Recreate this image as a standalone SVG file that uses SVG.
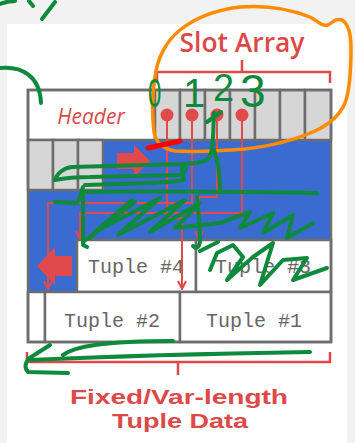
<svg xmlns="http://www.w3.org/2000/svg" width="355" height="443" viewBox="0 0 355 443">
  <style>
    .grid{stroke:#6d6d6d;stroke-width:2.5}
    .cell{fill:#d6d6d6}
    .paper{fill:#ffffff}
    .ptr{fill:none;stroke:#e04a4a;stroke-width:2}
    .brk{fill:none;stroke:#dd4a4a;stroke-width:2.5}
    .lbl{font-family:"Open Sans","Liberation Sans",sans-serif;font-weight:600;fill:#dd4848}
    .cap{font-family:"Liberation Sans",sans-serif;font-weight:bold;fill:#dd4848}
    .tup{font-family:"Liberation Mono","DejaVu Sans Mono",monospace;font-size:20px;fill:#666666}
    .pen{fill:none;stroke:#0f8a3c;stroke-width:4;stroke-linecap:round;stroke-linejoin:round}
    .ink{font-family:"Liberation Sans",sans-serif;fill:#0f8a3c}
    .hl{fill:none;stroke:#ff8c00;stroke-width:3.5;stroke-linecap:round;stroke-linejoin:round}
  </style>
  <defs>
    <marker id="ah" viewBox="0 0 10 10" refX="9" refY="5" markerWidth="10" markerHeight="10" orient="auto" markerUnits="userSpaceOnUse">
      <path d="M1,1 L9,5 L1,9" fill="none" stroke="#e04a4a" stroke-width="2"/>
    </marker>
  </defs>

  <!-- backdrop -->
  <rect width="355" height="443" fill="#f2f2f2"/>
  <rect x="7" y="24" width="340" height="419" fill="#ffffff"/>

  <!-- page layout -->
  <g id="page">
    <polygon points="103,140 331,140 331,240 77,240 77,292 28,292 28,190 103,190" fill="#3a6bd0"/>
    <g id="header">
      <rect class="paper grid" x="28" y="90" width="127" height="50"/>
      <text x="91" y="124" text-anchor="middle" font-family="'Open Sans','Liberation Sans',sans-serif" font-style="italic" font-size="21" fill="#d94848">Header</text>
    </g>
    <g id="slot-array" class="grid">
      <rect class="cell" x="155" y="90" width="25" height="50"/>
      <rect class="cell" x="180" y="90" width="25" height="50"/>
      <rect class="cell" x="205" y="90" width="25" height="50"/>
      <rect class="cell" x="230" y="90" width="25" height="50"/>
      <rect class="cell" x="255" y="90" width="25" height="50"/>
      <rect class="cell" x="280" y="90" width="25" height="50"/>
      <rect class="cell" x="305" y="90" width="26" height="50"/>
    </g>
    <g id="spare-cells" class="grid">
      <rect class="cell" x="28" y="140" width="25" height="50"/>
      <rect class="cell" x="53" y="140" width="25" height="50"/>
      <rect class="cell" x="78" y="140" width="25" height="50"/>
    </g>
    <g id="tuple4">
      <rect class="paper grid" x="77" y="240" width="119" height="52"/>
      <text class="tup" x="136" y="273" text-anchor="middle">Tuple #4</text>
    </g>
    <g id="tuple3">
      <rect class="paper grid" x="196" y="240" width="135" height="52"/>
      <text class="tup" x="263" y="273" text-anchor="middle">Tuple #3</text>
    </g>
    <rect class="paper grid" x="28" y="292" width="17" height="50"/>
    <g id="tuple2">
      <rect class="paper grid" x="45" y="292" width="135" height="50"/>
      <text class="tup" x="112" y="327" text-anchor="middle">Tuple #2</text>
    </g>
    <g id="tuple1">
      <rect class="paper grid" x="180" y="292" width="151" height="50"/>
      <text class="tup" x="254" y="327" text-anchor="middle">Tuple #1</text>
    </g>
    <rect x="28" y="90" width="303" height="252" fill="none" class="grid"/>
  </g>

  <!-- free-space growth arrows -->
  <g id="growth" fill="#e04a4a">
    <polygon points="117,153 134,153 134,145 150,161 134,177 134,169 117,169"/>
    <polygon points="72,256 55,256 55,247 37,266 55,285 55,276 72,276"/>
  </g>

  <!-- slot pointers -->
  <g id="connectors">
    <path class="ptr" d="M167,115 V218 H182 V289" marker-end="url(#ah)"/>
    <path class="ptr" d="M192,115 V203 H48 V289" marker-end="url(#ah)"/>
    <path class="ptr" d="M217,115 V197 H199 V239" marker-end="url(#ah)"/>
    <path class="ptr" d="M242,115 V213 H80 V239" marker-end="url(#ah)"/>
    <g fill="#e04a4a">
      <circle cx="167" cy="115" r="6.5"/>
      <circle cx="192" cy="115" r="6.5"/>
      <circle cx="217" cy="115" r="6.5"/>
      <circle cx="242" cy="115" r="6.5"/>
    </g>
  </g>

  <!-- labels and braces -->
  <g id="slot-label">
    <path class="brk" d="M157,83 V72 H330 V83 M242,72 V60"/>
    <text class="lbl" x="242" y="52" font-size="27" text-anchor="middle" textLength="125" lengthAdjust="spacingAndGlyphs">Slot Array</text>
  </g>
  <g id="data-label">
    <path class="brk" d="M27,352 V362 H330 V352 M178,362 V375"/>
    <text class="cap" x="179" y="403.5" font-size="21" text-anchor="middle" textLength="218" lengthAdjust="spacingAndGlyphs">Fixed/Var-length</text>
    <text class="cap" x="180" y="428" font-size="21" text-anchor="middle" textLength="136" lengthAdjust="spacingAndGlyphs">Tuple Data</text>
  </g>

  <!-- pen annotations -->
  <g id="annotations">
    <path class="hl" d="M155,77 C157,60 165,42 180,30 C195,18 215,10 240,7 C265,5 290,9 310,17 C318,21 322,27 328,25 C333,22 336,18 342,20 C349,24 351,34 351,48 C351,70 350,90 345,103 C340,115 330,124 315,131 C295,140 270,146 245,149 C220,151 195,152 175,151 C162,149 156,143 154,132 C152,115 152,95 155,77"/>
    <path d="M148,148 L180,141" stroke="#ff0000" stroke-width="5" stroke-linecap="round" fill="none"/>

    <path class="pen" d="M0,4 Q8,1 15,1 M29,1 L33,6 M42,19 L55,2"/>
    <path class="pen" d="M0,68 C22,66 40,76 41,103"/>

    <text class="ink" transform="translate(148,107) scale(0.6,1)" font-size="40">0</text>
    <text class="ink" x="183" y="107" font-size="40">1</text>
    <text class="ink" x="213" y="101" font-size="38">2</text>
    <text class="ink" x="240" y="107" font-size="46">3</text>

    <!-- looped strokes across the free space -->
    <path class="pen" d="M207,122 L221,112 M214,113 C213,130 214,150 209,158 C204,163 195,163 185,164 L72,167 C64,168 57,173 55,180 C65,178 75,177 90,177 L180,175 C186,172 187,167 184,166 C180,168 183,176 184,180 C170,183 150,183 120,184 L85,185"/>
    <path class="pen" d="M214,150 C218,160 220,175 220,192"/>
    <path class="pen" d="M83,192 C150,191 250,192 317,193"/>
    <path class="pen" d="M83,187 C82,192 80,198 77,203 L55,202 M83,192 L83,245 L87,247"/>
    <path class="pen" d="M135,202 L83,242"/>
    <path class="pen" d="M90,238 L132,200 L95,232 L160,198 L118,235 L185,200 L150,232 L200,203 L175,228 L220,223 L250,212 L240,228 L273,213 L263,233 L293,215 L287,238 L313,223"/>
    <path class="pen" d="M197,197 C199,215 200,230 200,240 C200,246 197,250 193,246 M200,251 L218,242"/>
    <path class="pen" d="M210,270 L217,253 L233,245 L243,257 L227,280 L253,257 L273,243 L260,285 L283,260 L307,258 L293,280 L327,268"/>

    <!-- arrow under the tuple area -->
    <path class="pen" d="M173,341 C150,341 117,342 95,345 C80,347 70,350 63,355"/>
    <path class="pen" d="M310,352 C250,353 120,356 30,360"/>
    <path class="pen" d="M50,345 L28,359 C25,364 25,369 28,372 L68,373"/>
  </g>
</svg>
